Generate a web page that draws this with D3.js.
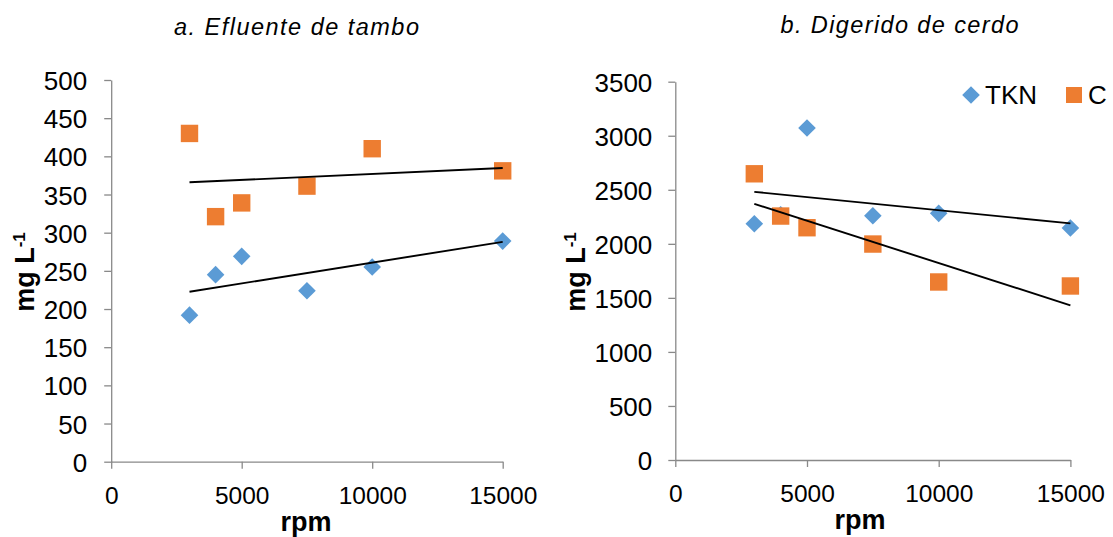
<!DOCTYPE html>
<html><head><meta charset="utf-8">
<script src="https://cdn.jsdelivr.net/npm/d3@7"></script>
<style>
body{margin:0;background:#fff}
svg{display:block}
text{font-family:"Liberation Sans",Arial,sans-serif}
</style></head><body>
<svg id="c" width="1113" height="537"></svg>
<script>
// ---- data ----
const rpm = [3000, 4000, 5000, 7500, 10000, 15000];
const tamboTKN = [192, 245, 269, 224, 255, 289];
const tamboC = [430, 321, 339, 361, 410, 381];
const cerdoTKN = [2186, 2268, 3071, 2260, 2282, 2147];
const cerdoC = [2648, 2257, 2149, 1998, 1647, 1610];
const trendX = [3000, 15000];
const tamboTKNTrend = [222.7, 288];
const tamboCTrend = [366, 384.7];
const cerdoTKNTrend = [2481, 2189];
const cerdoCTrend = [2370, 1431];
const xTicks = [0, 5000, 10000, 15000];
const tamboYTicks = [0, 50, 100, 150, 200, 250, 300, 350, 400, 450, 500];
const cerdoYTicks = [0, 500, 1000, 1500, 2000, 2500, 3000, 3500];
const titles = ["a. Efluente de tambo", "b. Digerido de cerdo"];
const seriesNames = ["TKN", "C"];

const BLUE = "#5B9BD5", ORANGE = "#ED7D31", AX = "#898989";
const svg = d3.select("#c");

function diamond(h){ return `M0,${-h}L${h},0L0,${h}L${-h},0Z`; }

function panel(cfg){
  const g = svg.append("g");
  const x = d3.scaleLinear().domain([0, 15000]).range([cfg.x0, cfg.x1]);
  const y = d3.scaleLinear().domain([0, cfg.ymax]).range([cfg.yb, cfg.yt]);

  const xa = g.append("g").attr("transform", `translate(0,${cfg.yb})`)
    .call(d3.axisBottom(x).tickValues(xTicks).tickFormat(d3.format("d")).tickSize(7).tickSizeOuter(0));
  xa.selectAll("text").attr("y", 42).attr("dy", 0).style("font-size", "24.5px");
  const ya = g.append("g").attr("transform", `translate(${cfg.x0},0)`)
    .call(d3.axisLeft(y).tickValues(cfg.yTicks).tickFormat(d3.format("d")).tickSize(7).tickSizeOuter(0).tickPadding(cfg.pad));
  ya.selectAll("text").attr("dy", "0.37em").style("font-size", "26px");
  [xa, ya].forEach(a => {
    a.select(".domain").attr("stroke", AX).attr("stroke-width", 1.3);
    a.selectAll(".tick line").attr("stroke", AX).attr("stroke-width", 1.3);
    a.selectAll("text").attr("fill", "#000").style("font-family", '"Liberation Sans",Arial,sans-serif');
  });

  // points: TKN then C
  g.append("g").selectAll("path").data(rpm.map((r, i) => [r, cfg.tkn[i]])).join("path")
    .attr("d", diamond(8.8)).attr("fill", BLUE)
    .attr("transform", d => `translate(${x(d[0])},${y(d[1])})`);
  const s = 17.4;
  g.append("g").selectAll("rect").data(rpm.map((r, i) => [r, cfg.c[i]])).join("rect")
    .attr("x", d => x(d[0]) - s/2).attr("y", d => y(d[1]) - s/2)
    .attr("width", s).attr("height", s).attr("fill", ORANGE);

  // trend lines
  const line = d3.line().x(d => x(d[0])).y(d => y(d[1]));
  [cfg.tknTrend, cfg.cTrend].forEach(t => {
    g.append("path").attr("d", line(trendX.map((v, i) => [v, t[i]])))
      .attr("fill", "none").attr("stroke", "#000").attr("stroke-width", 1.9);
  });

  // title
  g.append("text").attr("x", cfg.tx).attr("y", cfg.ty).attr("text-anchor", "middle")
    .attr("textLength", cfg.tlen).attr("lengthAdjust", "spacing")
    .style("font-size", "23.5px").style("font-style", "italic").text(cfg.title);
  // x label
  g.append("text").attr("x", cfg.rx).attr("y", cfg.ry).attr("text-anchor", "middle")
    .style("font-size", "27px").style("font-weight", "bold").text("rpm");
  // y label
  const yl = g.append("text").attr("transform", `translate(${cfg.lx},272) rotate(-90)`)
    .attr("text-anchor", "middle").style("font-size", "27px").style("font-weight", "bold");
  yl.append("tspan").text("mg L");
  yl.append("tspan").attr("baseline-shift", "super").style("font-size", "17px").text("-1");
}

panel({x0: 111.2, x1: 502.7, yt: 80, yb: 461.7, ymax: 500, yTicks: tamboYTicks, pad: 17,
  tkn: tamboTKN, c: tamboC, tknTrend: tamboTKNTrend, cTrend: tamboCTrend,
  title: titles[0], tx: 296.5, ty: 35, tlen: 245, rx: 306, ry: 531, lx: 34});
panel({x0: 675.3, x1: 1070.4, yt: 81.7, yb: 460, ymax: 3500, yTicks: cerdoYTicks, pad: 16,
  tkn: cerdoTKN, c: cerdoC, tknTrend: cerdoTKNTrend, cTrend: cerdoCTrend,
  title: titles[1], tx: 899.5, ty: 33, tlen: 238, rx: 860, ry: 529, lx: 585});

// legend
const lg = svg.append("g");
lg.append("path").attr("d", diamond(8.8)).attr("fill", BLUE).attr("transform", "translate(971,95)");
lg.append("text").attr("x", 985).attr("y", 104).style("font-size", "26px").text(seriesNames[0]);
lg.append("rect").attr("x", 1066).attr("y", 87).attr("width", 16).attr("height", 16).attr("fill", ORANGE);
lg.append("text").attr("x", 1088).attr("y", 104).style("font-size", "26px").text(seriesNames[1]);
</script>
</body></html>
